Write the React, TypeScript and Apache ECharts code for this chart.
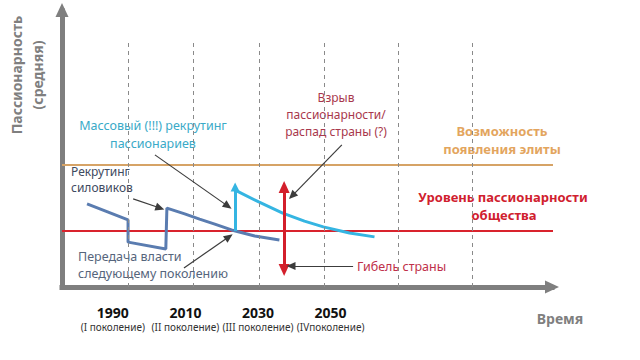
import React, { useEffect, useRef } from 'react';
import * as echarts from 'echarts';

// ---- data (x: year, y: average passionarity, arbitrary units 0..100) ----
const xTickYears = [1990, 2010, 2030, 2050];
const generationLabels = ['(I поколение)', '(II поколение)', '(III поколение)', '(IVпоколение)'];
const generationLines = [1994.2, 2012.1, 2030.3, 2048.2, 2068.6, 2088.9];
const generationLineTop = 88.4;

const eliteLevel = 44.0;
const societyLevel = 20.2;
const levelStart = 1976;
const levelEnd = 2113;

const powerSeries = [
  [1982.9, 30.0], [1994.2, 24.2], [1994.2, 16.2], [2004.6, 13.7], [2004.9, 28.5],
  [2009.8, 26.4], [2013.9, 24.5], [2018.1, 22.7], [2022.7, 20.6], [2029.1, 18.4], [2035.9, 17.0],
];
const massRise = [[2023.7, 20.2], [2023.7, 36.1]];
const massSeries = [
  [2023.7, 35.0], [2030.2, 30.7], [2036.8, 26.7], [2042.8, 23.8], [2048.0, 21.7], [2055.2, 19.5], [2062.1, 18.1],
];
const burstArrow = [[2037.2, 6.1], [2037.2, 36.1]];
const annotationArrows = [
  [[2001.6, 47.7], [2021.7, 29.2]],
  [[1995.6, 31.8], [2003.0, 28.5]],
  [[2009.6, 6.9], [2022.0, 18.1]],
  [[2053.1, 51.3], [2039.4, 32.9]],
  [[2056.2, 7.6], [2039.1, 7.6]],
];

const FONT = '"Noto Sans", "Open Sans", sans-serif';

export default function App() {
  const ref = useRef<HTMLDivElement>(null);
  useEffect(() => {
    document.body.style.margin = '0';
    const chart = echarts.init(ref.current!, null, { renderer: 'svg' });
    const solid = (color: string, width: number) => ({ color, width, type: 'solid' as const });

    const text = (t: string, x: number, y: number, fill: string, font: string, align = 'center') => ({
      type: 'text',
      x,
      y,
      silent: true,
      style: { text: t, fill, font, textAlign: align, textVerticalAlign: 'middle' },
    });

    const levelLine = (name: string, level: number, color: string) => ({
      name,
      type: 'line',
      data: [[levelStart, level], [levelEnd, level]],
      showSymbol: false,
      silent: true,
      clip: false,
      z: 2,
      lineStyle: solid(color, 2),
    });

    chart.setOption({
      animation: false,
      backgroundColor: '#ffffff',
      grid: { left: 62, top: 10, width: 490, height: 277, outerBoundsMode: 'none' },
      xAxis: {
        type: 'value',
        min: 1976,
        max: 2111,
        axisLine: {
          show: true,
          onZero: false,
          symbol: ['none', 'triangle'],
          symbolSize: [13, 14],
          lineStyle: { color: '#7f7f7f', width: 5, cap: 'square' },
        },
        axisTick: { show: false },
        splitLine: { show: false },
        axisLabel: {
          customValues: xTickYears,
          margin: 17,
          formatter: (v: number) => {
            const i = xTickYears.indexOf(Math.round(v));
            return `{y|${Math.round(v)}}\n{g|${generationLabels[i] ?? ''}}`;
          },
          rich: {
            y: { fontFamily: FONT, fontWeight: 'bold', fontSize: 14, color: '#111111', lineHeight: 16 },
            g: { fontFamily: FONT, fontSize: 10, color: '#333333', lineHeight: 14 },
          },
        },
      },
      yAxis: {
        type: 'value',
        min: 0,
        max: 100,
        axisLine: {
          show: true,
          onZero: false,
          symbol: ['none', 'triangle'],
          symbolSize: [13, 14],
          lineStyle: { color: '#7f7f7f', width: 5 },
        },
        axisTick: { show: false },
        axisLabel: { show: false },
        splitLine: { show: false },
      },
      series: [
        {
          name: 'guides',
          type: 'line',
          data: [],
          silent: true,
          clip: false,
          z: 1,
          markLine: {
            silent: true,
            symbol: 'none',
            label: { show: false },
            data: generationLines.map((x) => [
              { coord: [x, 0], lineStyle: { color: '#8a8a8a', width: 1, type: [4, 4] } },
              { coord: [x, generationLineTop] },
            ]),
          },
        },
        levelLine('Возможность появления элиты', eliteLevel, '#d6a366'),
        levelLine('Уровень пассионарности общества', societyLevel, '#d9232d'),
        {
          name: 'Рекрутинг силовиков',
          type: 'line',
          data: powerSeries,
          showSymbol: false,
          silent: true,
          clip: false,
          z: 3,
          lineStyle: { color: '#5a7cb0', width: 3 },
        },
        {
          name: 'Массовый рекрутинг',
          type: 'line',
          data: massSeries,
          showSymbol: false,
          silent: true,
          clip: false,
          z: 4,
          lineStyle: { color: '#35b5e2', width: 3 },
          markLine: {
            silent: true,
            label: { show: false },
            data: [
              [
                { coord: massRise[0], symbol: 'none', lineStyle: solid('#35b5e2', 3) },
                { coord: massRise[1], symbol: 'triangle', symbolSize: [9, 9] },
              ],
            ],
          },
        },
        {
          name: 'arrows',
          type: 'line',
          data: [],
          silent: true,
          clip: false,
          z: 5,
          markLine: {
            silent: true,
            label: { show: false },
            data: [
              [
                { coord: burstArrow[0], symbol: 'triangle', symbolSize: [11, 12], lineStyle: solid('#d31f2b', 3) },
                { coord: burstArrow[1], symbol: 'triangle', symbolSize: [11, 12] },
              ],
              ...annotationArrows.map((a) => [
                { coord: a[0], symbol: 'none', lineStyle: solid('#3c3c3c', 1.2) },
                { coord: a[1], symbol: 'triangle', symbolSize: [8, 9] },
              ]),
            ],
          },
        },
      ],
      graphic: [
        {
          type: 'text',
          x: 27,
          y: 75,
          rotation: Math.PI / 2,
          silent: true,
          style: {
            text: 'Пассионарность\n(средняя)',
            fill: '#7f7f7f',
            font: `bold 14px ${FONT}`,
            lineHeight: 21,
            textAlign: 'center',
            textVerticalAlign: 'middle',
          },
        },
        text('Массовый (!!!) рекрутинг', 153, 125, '#3aaac8', `12.5px ${FONT}`),
        text('пассионариев', 153, 143, '#3aaac8', `12.5px ${FONT}`),
        text('Рекрутинг', 71, 171, '#3e4a60', `12px ${FONT}`, 'left'),
        text('силовиков', 71, 187, '#3e4a60', `12px ${FONT}`, 'left'),
        text('Передача власти', 78, 256, '#56657c', `12.5px ${FONT}`, 'left'),
        text('следующему поколению', 78, 273, '#56657c', `12.5px ${FONT}`, 'left'),
        text('Взрыв', 336, 97, '#a8384c', `12px ${FONT}`),
        text('пассионарности/', 336, 114, '#a8384c', `12px ${FONT}`),
        text('распад страны (?)', 336, 131, '#a8384c', `12px ${FONT}`),
        text('Возможность', 502, 131, '#e3a55e', `bold 13px ${FONT}`),
        text('появления элиты', 502, 149, '#e3a55e', `bold 13px ${FONT}`),
        text('Уровень пассионарности', 503, 197, '#d0202e', `bold 13px ${FONT}`),
        text('общества', 504, 215, '#d0202e', `bold 13px ${FONT}`),
        text('Гибель страны', 357, 266, '#c0304a', `12.5px ${FONT}`, 'left'),
        text('Время', 560, 318, '#7f7f7f', `bold 14px ${FONT}`),
      ],
    });
    return () => chart.dispose();
  }, []);
  return <div ref={ref} style={{ position: 'absolute', left: 0, top: 0, width: 640, height: 360 }} />;
}
